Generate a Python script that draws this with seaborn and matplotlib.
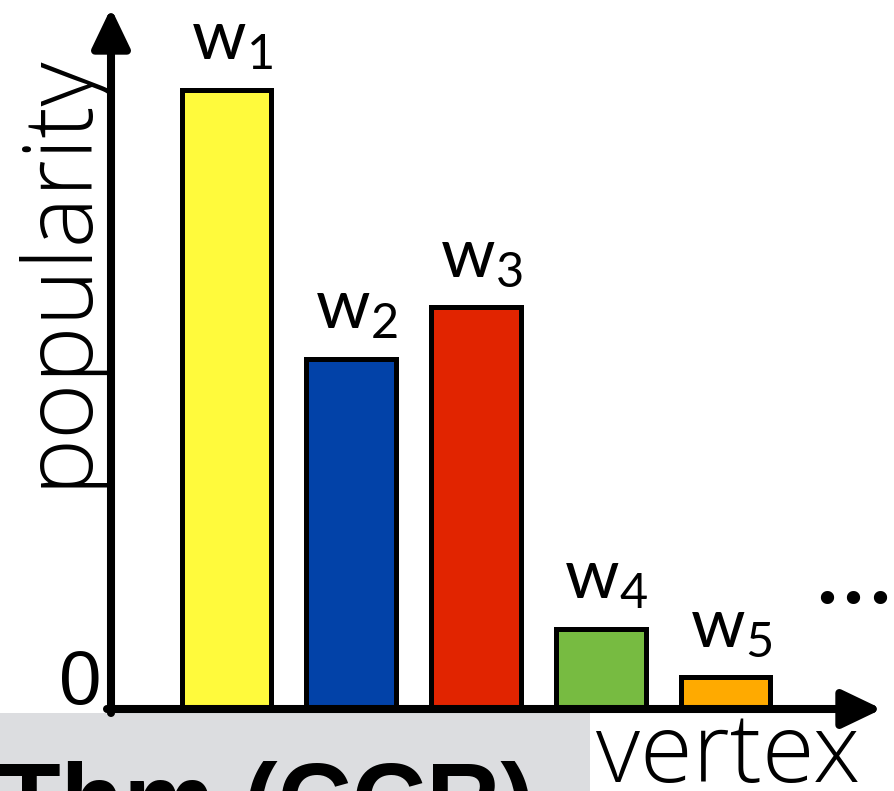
import matplotlib
matplotlib.use("Agg")
import matplotlib.pyplot as plt
from matplotlib.patches import Rectangle
import seaborn as sns

# Vertex popularity, sorted from most to least popular
vertices = ["w1", "w2", "w3", "w4", "w5"]
popularity = [1.000, 0.565, 0.649, 0.129, 0.051]
bar_colors = ["#FFFA3C", "#0242A8", "#E12400", "#77BB41", "#FFAA00"]
bar_labels = [r"$\mathregular{w_1}$", r"$\mathregular{w_2}$", r"$\mathregular{w_3}$",
              r"$\mathregular{w_4}$", r"$\mathregular{w_5}$"]

sns.set_style("white")
plt.rcParams["font.family"] = ["Lato", "DejaVu Sans"]
plt.rcParams["text.color"] = "black"

W, H = 894, 791
fig = plt.figure(figsize=(W / 100, H / 100), dpi=100)

def fx(px):
    return px / W

def fy(py):
    return (H - py) / H

# Plot area: origin at the corner of the two axis arrows
x0, x1, y0, y1 = 111, 882, 709, 8
ax = fig.add_axes([fx(x0), fy(y0), (x1 - x0) / W, (y0 - y1) / H])
ax.patch.set_alpha(0)

sns.barplot(x=vertices, y=popularity, hue=vertices, palette=bar_colors,
            edgecolor="black", linewidth=3.6, width=0.72, legend=False,
            saturation=1, ax=ax)

ax.set_xlim(-0.926, 5.255)
ax.set_ylim(0, 1.133)
for s in ax.spines.values():
    s.set_visible(False)
ax.set_xticks([])
ax.set_yticks([])
ax.set_xlabel("")
ax.set_ylabel("")

# Bar labels
for i, (v, lab) in enumerate(zip(popularity, bar_labels)):
    ax.annotate(lab, xy=(i, v), xytext=(4, 13), textcoords="offset points",
                ha="center", va="bottom", fontsize=50, family="Lato",
                color="black", annotation_clip=False)

# Axis arrows
arrow_kw = dict(arrowstyle="-|>,head_length=2.4,head_width=1.15",
                lw=5.8, color="black", shrinkA=0, shrinkB=0, mutation_scale=10)
ax.annotate("", xy=(1, 0), xytext=(-4 / (x1 - x0), 0), xycoords="axes fraction",
            arrowprops=arrow_kw, annotation_clip=False, zorder=5)
ax.annotate("", xy=(0, 1), xytext=(0, -4 / (y0 - y1)), xycoords="axes fraction",
            arrowprops=arrow_kw, annotation_clip=False, zorder=5)

# Axis titles and origin mark
title_font = dict(fontsize=69, fontweight="light", family="Open Sans", color="black")
fig.text(fx(84), fy(487), "popularity", rotation=90, rotation_mode="anchor",
         ha="left", va="baseline", **title_font)
fig.text(fx(596), fy(782), "vertex", ha="left", va="baseline", **title_font)
fig.text(fx(101), fy(704), "0", ha="right", va="baseline",
         fontsize=55, family="Liberation Sans", color="black")
fig.text(fx(854), fy(602), "•••", ha="center", va="center",
         fontsize=33, family="DejaVu Sans", color="black")

# Theorem banner along the bottom edge
fig.add_artist(Rectangle((0, 0), fx(590), fy(713),
                         transform=fig.transFigure, facecolor="#DCDDE0",
                         edgecolor="none", zorder=-1))
fig.text(fx(-2), fy(836), "Thm (CCR)", ha="left", va="baseline",
         fontsize=74, fontweight="bold", family="Liberation Sans", color="black")

fig.savefig("out.png", dpi=100)
